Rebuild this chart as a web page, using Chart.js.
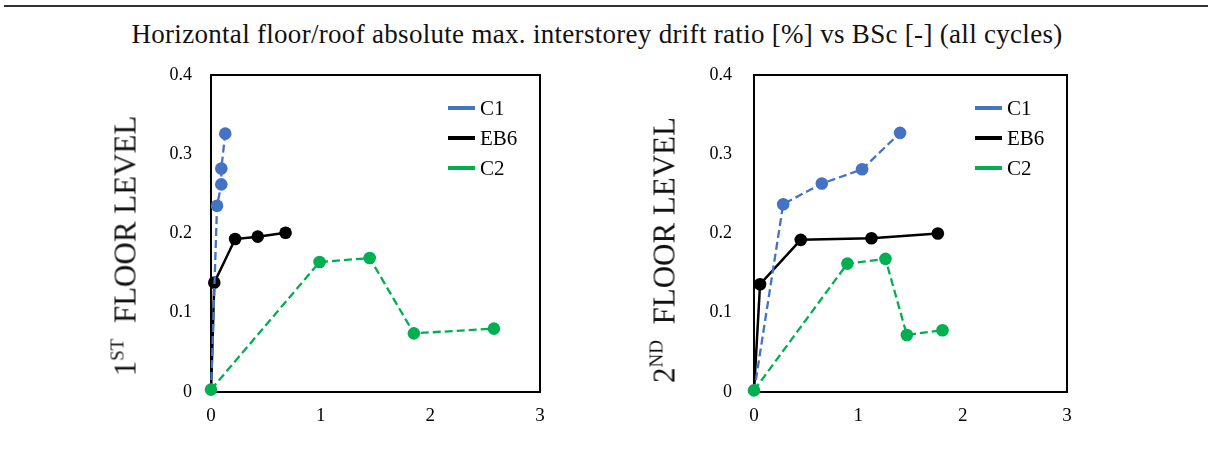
<!DOCTYPE html>
<html>
<head>
<meta charset="utf-8">
<script src="https://cdn.jsdelivr.net/npm/chart.js@4.4.0/dist/chart.umd.min.js"></script>
<style>
body { margin: 0; background: #fff; width: 1208px; height: 450px; position: relative; overflow: hidden; font-family: "Liberation Serif", "Times New Roman", serif; }
.rule { position: absolute; left: 4px; right: 0; top: 5px; height: 2px; background: #333; }
.title { position: absolute; left: -7px; top: 21px; width: 1208px; text-align: center; font-size: 27px; line-height: 26px; letter-spacing: 0.3px; color: #111; }
.panel { position: absolute; top: 0; }
.ylab { position: absolute; font-size: 31px; line-height: 31px; white-space: nowrap; color: #111; transform: translate(-50%, -50%) rotate(-90deg); }
.ylab sup { font-size: 19px; line-height: 0; vertical-align: 12px; }
</style>
</head>
<body>
<div class="rule"></div>
<div class="title">Horizontal floor/roof absolute max. interstorey drift ratio [%] vs BSc [-] (all cycles)</div>
<canvas id="chart1" class="panel" width="604" height="450" style="left:0"></canvas>
<canvas id="chart2" class="panel" width="604" height="450" style="left:604px"></canvas>
<div class="ylab" style="left:125px; top:246px">1<sup>ST</sup>&nbsp; FLOOR LEVEL</div>
<div class="ylab" style="left:664px; top:250px">2<sup>ND</sup>&nbsp; FLOOR LEVEL</div>
<script>
const seriesNames = ['C1', 'EB6', 'C2'];
const xTicks = [0, 1, 2, 3];
const yTicks = [0, 0.1, 0.2, 0.3, 0.4];

// 1st floor level
const c1X1 = [0, 0.055, 0.094, 0.094, 0.13];
const c1Y1 = [0, 0.235, 0.262, 0.282, 0.326];
const eb6X1 = [0, 0.03, 0.22, 0.426, 0.68];
const eb6Y1 = [0, 0.138, 0.193, 0.196, 0.201];
const c2X1 = [0, 0.99, 1.447, 1.85, 2.58];
const c2Y1 = [0.003, 0.164, 0.169, 0.074, 0.08];

// 2nd floor level
const c1X2 = [0, 0.28, 0.65, 1.036, 1.4];
const c1Y2 = [0, 0.237, 0.263, 0.281, 0.327];
const eb6X2 = [0, 0.058, 0.448, 1.126, 1.762];
const eb6Y2 = [0, 0.136, 0.192, 0.194, 0.2];
const c2X2 = [0, 0.895, 1.26, 1.465, 1.807];
const c2Y2 = [0.002, 0.162, 0.168, 0.072, 0.078];

const colors = ['#4472C4', '#000000', '#00B050'];
const dashes = [[8, 4], [], [8, 4]];
const widths = [2.3, 2.5, 2.3];
const drawOrder = [1, 2, 0];

const serif = '"Liberation Serif"';
Chart.defaults.font.family = serif;
Chart.defaults.color = '#000';

const toPoints = (xs, ys) => xs.map((x, i) => ({ x: x, y: ys[i] }));

const framePlugin = {
    id: 'frame',
    beforeDatasetsDraw(chart) {
        const { ctx, chartArea: a } = chart;
        ctx.save();
        ctx.strokeStyle = '#000';
        ctx.lineWidth = 2;
        ctx.strokeRect(a.left, a.top, a.right - a.left, a.bottom - a.top);
        ctx.restore();
    }
};

const legendPlugin = {
    id: 'insideLegend',
    afterDraw(chart) {
        const { ctx, chartArea: a } = chart;
        ctx.save();
        chart.data.datasets.forEach((ds, i) => {
            const y = a.top + 33 + i * 30;
            ctx.strokeStyle = ds.borderColor;
            ctx.lineWidth = 4;
            ctx.beginPath();
            ctx.moveTo(a.right - 92, y);
            ctx.lineTo(a.right - 65, y);
            ctx.stroke();
            ctx.fillStyle = '#000';
            ctx.font = '21px ' + serif;
            ctx.textBaseline = 'middle';
            ctx.fillText(ds.label, a.right - 60, y + 1);
        });
        ctx.restore();
    }
};

const makeChart = (id, xsList, ysList, axisWidth, rightPad, tickPad) => {
    const ctx = document.getElementById(id).getContext('2d');
    return new Chart(ctx, {
        type: 'scatter',
        data: {
            datasets: seriesNames.map((name, i) => ({
                label: name,
                data: toPoints(xsList[i], ysList[i]),
                showLine: true,
                clip: false,
                borderColor: colors[i],
                backgroundColor: colors[i],
                borderWidth: widths[i],
                borderDash: dashes[i],
                // only the green origin marker shows at (0, 0)
                pointRadius: (c) => (c.dataIndex === 0 && i !== 2 ? 0 : 6.3),
                pointBorderWidth: 0,
                pointHoverRadius: 6.3,
                order: drawOrder[i]
            }))
        },
        options: {
            responsive: false,
            animation: false,
            devicePixelRatio: 1,
            layout: { padding: { left: 0, top: 75, right: rightPad, bottom: 0 } },
            plugins: { legend: { display: false }, tooltip: { enabled: false } },
            scales: {
                x: {
                    type: 'linear',
                    min: xTicks[0],
                    max: xTicks[xTicks.length - 1],
                    afterBuildTicks: (scale) => { scale.ticks = xTicks.map(v => ({ value: v })); },
                    afterFit: (scale) => { scale.height = 58; },
                    grid: { display: false, drawTicks: false },
                    border: { display: false },
                    ticks: { font: { size: 19 }, padding: 13, color: '#000' }
                },
                y: {
                    min: yTicks[0],
                    max: yTicks[yTicks.length - 1],
                    afterBuildTicks: (scale) => { scale.ticks = yTicks.map(v => ({ value: v })); },
                    afterFit: (scale) => { scale.width = axisWidth; },
                    grid: { display: false, drawTicks: false },
                    border: { display: false },
                    ticks: { font: { size: 18 }, padding: tickPad, color: '#000' }
                }
            }
        },
        plugins: [framePlugin, legendPlugin]
    });
};

makeChart('chart1', [c1X1, eb6X1, c2X1], [c1Y1, eb6Y1, c2Y1], 211, 64, 19);
makeChart('chart2', [c1X2, eb6X2, c2X2], [c1Y2, eb6Y2, c2Y2], 150, 141, 22);
</script>
</body>
</html>
